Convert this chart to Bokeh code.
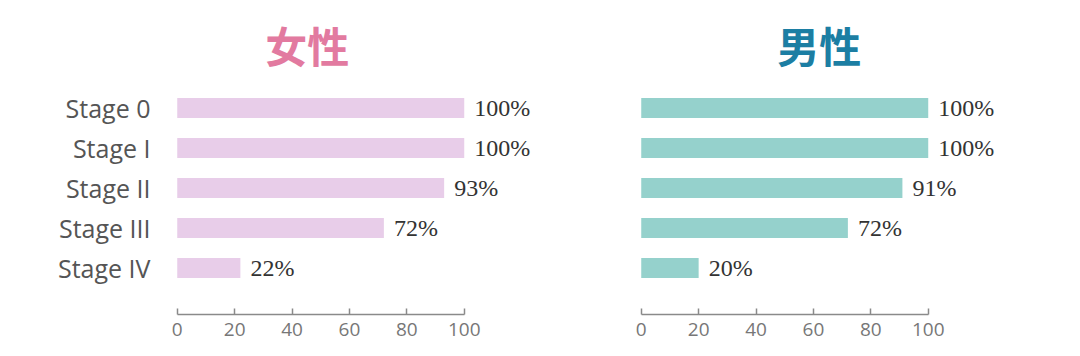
from bokeh.plotting import figure
from bokeh.layouts import row
from bokeh.models import Range1d, FixedTicker, Label, ColumnDataSource
from bokeh.core.properties import value
from bokeh.embed import file_html
from bokeh.resources import INLINE

stages = ["Stage 0", "Stage I", "Stage II", "Stage III", "Stage IV"]
female = [100, 100, 93, 72, 22]
male = [100, 100, 91, 72, 20]
x_ticks = [0, 20, 40, 60, 80, 100]
titles = ["女性", "男性"]

PX_PER_UNIT = 2.87
FIG_W, FIG_H = 540, 356
BORDER_BOTTOM = 42
Y_START = -1.16
Y_PX = 40.0


def panel(vals, title, title_color, bar_color, show_labels, border_left, title_x):
    frame_w = FIG_W - border_left
    x_end = -2 + frame_w / PX_PER_UNIT
    y_end = Y_START + (FIG_H - BORDER_BOTTOM) / Y_PX
    p = figure(width=FIG_W, height=FIG_H, output_backend="svg", toolbar_location=None,
               x_range=Range1d(-2, x_end), y_range=Range1d(Y_START, y_end),
               y_axis_location="left" if show_labels else None,
               min_border_left=border_left, min_border_right=0,
               min_border_top=0, min_border_bottom=BORDER_BOTTOM)
    n = len(stages)
    ys = [n - 1 - i for i in range(n)]
    src = ColumnDataSource(dict(y=ys, v=vals, lbl=[f"{v}%" for v in vals]))
    p.hbar(y="y", left=0, right="v", height=0.5, source=src,
           fill_color=bar_color, line_color=None)
    p.text(x="v", y="y", text="lbl", source=src, x_offset=10,
           text_baseline="middle", text_align="left",
           text_font=value("Liberation Serif"), text_font_size="24px",
           text_color="#333333")
    p.add_layout(Label(x=title_x, y=y_end - 44 / Y_PX, text=title, text_align="center",
                       text_baseline="middle", text_font="Noto Sans CJK SC",
                       text_font_style="bold", text_font_size="42px",
                       text_color=title_color))
    xa = p.xaxis[0]
    xa.ticker = FixedTicker(ticks=x_ticks)
    xa.bounds = (0, 100)
    xa.axis_line_color = "#8a8a8a"
    xa.axis_line_width = 1.5
    xa.major_tick_line_color = "#8a8a8a"
    xa.major_tick_line_width = 1.5
    xa.major_tick_in = 6
    xa.major_tick_out = 0
    xa.minor_tick_line_color = None
    xa.major_label_text_font = "Open Sans"
    xa.major_label_text_font_size = "19px"
    xa.major_label_text_color = "#777777"
    xa.major_label_standoff = 8
    if show_labels:
        ya = p.yaxis[0]
        ya.ticker = FixedTicker(ticks=ys)
        ya.major_label_overrides = {y: s for y, s in zip(ys, stages)}
        ya.axis_line_color = None
        ya.major_tick_line_color = None
        ya.minor_tick_line_color = None
        ya.major_label_text_font = "Open Sans"
        ya.major_label_text_font_size = "25px"
        ya.major_label_text_color = "#555555"
        ya.major_label_standoff = 15
    p.grid.visible = False
    p.outline_line_color = None
    p.background_fill_color = "white"
    p.border_fill_color = "white"
    return p


p1 = panel(female, titles[0], "#e27aa0", "#e8cde9", True, 171, (307 - 177) / PX_PER_UNIT)
p2 = panel(male, titles[1], "#1c7ea3", "#95d1cc", False, 95, (819 - 641) / PX_PER_UNIT)

layout = row(p1, p2)
open("out.html", "w").write(file_html(layout, INLINE))
